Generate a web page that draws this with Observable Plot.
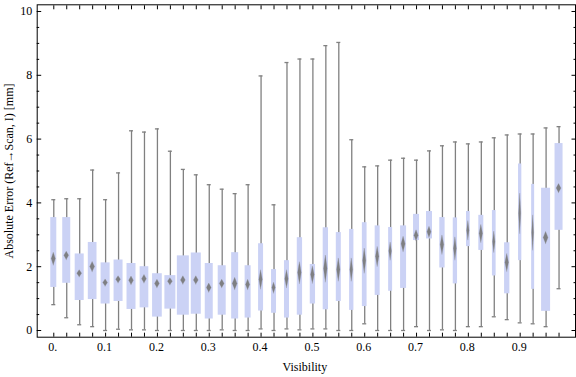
<!DOCTYPE html>
<html><head><meta charset="utf-8">
<script src="https://cdn.jsdelivr.net/npm/d3@7"></script>
<script src="https://cdn.jsdelivr.net/npm/@observablehq/plot@0.6"></script>
<style>html,body{margin:0;padding:0;background:#fff} svg{display:block}</style>
</head><body><div id="chart"></div>
<script>
// Visibility categories (box centres)
const visibility = [0, 0.025, 0.05, 0.075, 0.1, 0.125, 0.15, 0.175, 0.2, 0.225,
  0.25, 0.275, 0.3, 0.325, 0.35, 0.375, 0.4, 0.425, 0.45, 0.475,
  0.5, 0.525, 0.55, 0.575, 0.6, 0.625, 0.65, 0.675, 0.7, 0.725,
  0.75, 0.775, 0.8, 0.825, 0.85, 0.875, 0.9, 0.925, 0.95, 0.975];
// Whisker ends
const whiskerHigh = [4.10, 4.13, 4.13, 5.03, 4.10, 4.94, 6.26, 6.22, 6.32, 5.62,
  5.05, 4.88, 4.57, 4.43, 4.29, 4.57, 7.98, 3.94, 8.40, 8.51,
  8.51, 8.93, 9.03, 5.98, 5.13, 5.16, 5.34, 5.40, 5.34, 5.63,
  5.79, 5.91, 5.85, 5.91, 6.04, 6.13, 6.16, 6.16, 6.35, 6.39];
const whiskerLow = [0.81, 0.40, 0.18, 0.12, 0.00, 0.04, 0.02, 0.02, 0.00, 0.00,
  0.00, 0.00, 0.00, 0.02, 0.00, 0.00, 0.05, 0.00, 0.05, 0.02,
  0.05, 0.05, 0.00, 0.00, 0.21, 0.00, 0.00, 0.00, 0.12, 0.00,
  0.02, 0.00, 0.12, 0.12, 0.43, 0.34, 0.24, 0.21, 0.12, 1.31];
// Quartiles
const upperQuartile = [3.54, 3.54, 2.40, 2.76, 2.12, 2.21, 2.10, 2.00, 1.78, 1.72,
  2.34, 2.43, 2.10, 2.03, 2.44, 2.03, 2.72, 1.91, 2.19, 2.91,
  2.07, 3.22, 3.07, 3.17, 3.38, 3.28, 3.23, 3.28, 3.64, 3.73,
  3.54, 3.53, 3.73, 3.61, 3.76, 2.75, 5.22, 4.58, 4.46, 5.86];
const lowerQuartile = [1.35, 1.48, 0.94, 0.97, 0.83, 0.91, 0.66, 0.71, 0.42, 0.67,
  0.48, 0.51, 0.36, 0.48, 0.36, 0.39, 0.61, 0.54, 0.39, 0.48,
  0.83, 0.65, 0.91, 0.63, 0.75, 1.10, 1.23, 1.32, 2.82, 2.87,
  1.96, 1.46, 2.63, 2.51, 1.71, 1.15, 2.19, 1.29, 0.60, 3.14];
// Central marker (diamond) and its half extent
const centre = [2.24, 2.34, 1.78, 1.99, 1.49, 1.59, 1.56, 1.61, 1.46, 1.53,
  1.57, 1.57, 1.33, 1.46, 1.46, 1.43, 1.59, 1.33, 1.61, 1.80,
  1.74, 1.93, 1.90, 1.90, 2.18, 2.31, 2.48, 2.70, 2.97, 3.08,
  2.68, 2.56, 3.13, 3.03, 2.77, 2.12, 3.66, 3.06, 2.90, 4.45];
const centreSpread = [0.20, 0.13, 0.11, 0.16, 0.11, 0.11, 0.13, 0.13, 0.13, 0.11,
  0.13, 0.13, 0.14, 0.13, 0.19, 0.16, 0.30, 0.17, 0.28, 0.34,
  0.27, 0.42, 0.36, 0.36, 0.39, 0.31, 0.28, 0.24, 0.17, 0.17,
  0.30, 0.36, 0.30, 0.28, 0.33, 0.28, 0.63, 0.55, 0.19, 0.14];
// Relative sample counts (box widths)
const sampleCount = [60, 80, 90, 87, 90, 90, 90, 87, 97, 110,
  120, 100, 80, 80, 70, 60, 50, 50, 50, 53,
  53, 53, 50, 43, 47, 50, 40, 60, 60, 60,
  53, 43, 37, 50, 37, 53, 33, 30, 90, 80];
// Tick labels
const xTickValues = [0, 0.1, 0.2, 0.3, 0.4, 0.5, 0.6, 0.7, 0.8, 0.9];
const xTickLabels = ["0.", "0.1", "0.2", "0.3", "0.4", "0.5", "0.6", "0.7", "0.8", "0.9"];
const yTickValues = [0, 2, 4, 6, 8, 10];
const yMinorTicks = [0.5, 1, 1.5, 2.5, 3, 3.5, 4.5, 5, 5.5, 6.5, 7, 7.5, 8.5, 9, 9.5];

const W = 576, H = 377;
const mL = 36.7, mR = 1, mT = 4.3, mB = 40.3;
const xDom = [-0.032, 1.00675], yDom = [-0.21, 10.21];
const pxX = (W - mL - mR) / (xDom[1] - xDom[0]); // pixels per x unit
const unitPerPx = 1 / pxX;

const rows = visibility.map((v, i) => {
  const wpx = sampleCount[i] / 10;
  return {
    v, hi: whiskerHigh[i], lo: whiskerLow[i], q1: lowerQuartile[i], q3: upperQuartile[i],
    m: centre[i], s: centreSpread[i],
    hw: wpx / 2 * unitPerPx,
    dw: Math.min(2.4, 0.34 * wpx) * unitPerPx
  };
});
const capHW = 2 * unitPerPx;
const diamonds = rows.flatMap((d, i) => [
  {z: i, y: d.m - d.s, x1: d.v, x2: d.v},
  {z: i, y: d.m, x1: d.v - d.dw, x2: d.v + d.dw},
  {z: i, y: d.m + d.s, x1: d.v, x2: d.v}
]);

const boxColor = "#cbd2f5";
const whiskerColor = "#808080";
const font = "Liberation Serif, Times New Roman, serif";

const chart = Plot.plot({
  width: W, height: H,
  marginLeft: mL, marginRight: mR, marginTop: mT, marginBottom: mB,
  style: {fontFamily: font, fontSize: "12px", background: "#fff"},
  x: {domain: xDom},
  y: {domain: yDom},
  marks: [
    Plot.ruleX(rows, {x: "v", y1: "lo", y2: "hi", stroke: whiskerColor, strokeWidth: 1.3}),
    Plot.ruleY(rows, {y: "hi", x1: d => d.v - capHW, x2: d => d.v + capHW, stroke: whiskerColor, strokeWidth: 1.3}),
    Plot.ruleY(rows, {y: "lo", x1: d => d.v - capHW, x2: d => d.v + capHW, stroke: whiskerColor, strokeWidth: 1.3}),
    Plot.rect(rows, {x1: d => d.v - d.hw, x2: d => d.v + d.hw, y1: "q1", y2: "q3", fill: boxColor}),
    Plot.areaX(diamonds, {y: "y", x1: "x1", x2: "x2", z: "z", fill: "#767676", fillOpacity: 0.9, stroke: "#8a8a8a", strokeOpacity: 0.35, strokeWidth: 0.8, curve: "linear"}),
    Plot.frame({stroke: "black", strokeWidth: 1}),
    // inward ticks
    Plot.axisX(visibility, {anchor: "bottom", tickSize: -4, tickFormat: () => "", stroke: "black"}),
    Plot.axisX(visibility, {anchor: "top", tickSize: -4, tickFormat: () => "", stroke: "black"}),
    Plot.axisY(yTickValues, {anchor: "left", tickSize: -4.5, tickFormat: () => "", stroke: "black"}),
    Plot.axisY(yMinorTicks, {anchor: "left", tickSize: -2.5, tickFormat: () => "", stroke: "black"}),
    Plot.axisY(yTickValues, {anchor: "right", tickSize: -4.5, tickFormat: () => "", stroke: "black"}),
    Plot.axisY(yMinorTicks, {anchor: "right", tickSize: -2.5, tickFormat: () => "", stroke: "black"}),
    // tick labels
    Plot.axisX(xTickValues, {anchor: "bottom", tickSize: 0, tickPadding: 5.5, dx: -1,
      tickFormat: d => xTickLabels[xTickValues.indexOf(d)], fontSize: 12, label: null}),
    Plot.axisY(yTickValues, {anchor: "left", tickSize: 0, tickPadding: 5,
      tickFormat: d => String(d), fontSize: 12, label: null}),
    // axis titles
    Plot.text(["Visibility"], {frameAnchor: "bottom", text: d => d, dy: 30.2, dx: -1.5,
      fontSize: 12, textAnchor: "middle", lineAnchor: "middle"}),
    Plot.text(["Absolute Error (Ref\u2192Scan, I) [mm]"], {frameAnchor: "left", text: d => d, rotate: -90,
      dx: -28, fontSize: 12, textAnchor: "middle", lineAnchor: "middle"})
  ]
});
document.getElementById("chart").appendChild(chart);
</script>
</body></html>
